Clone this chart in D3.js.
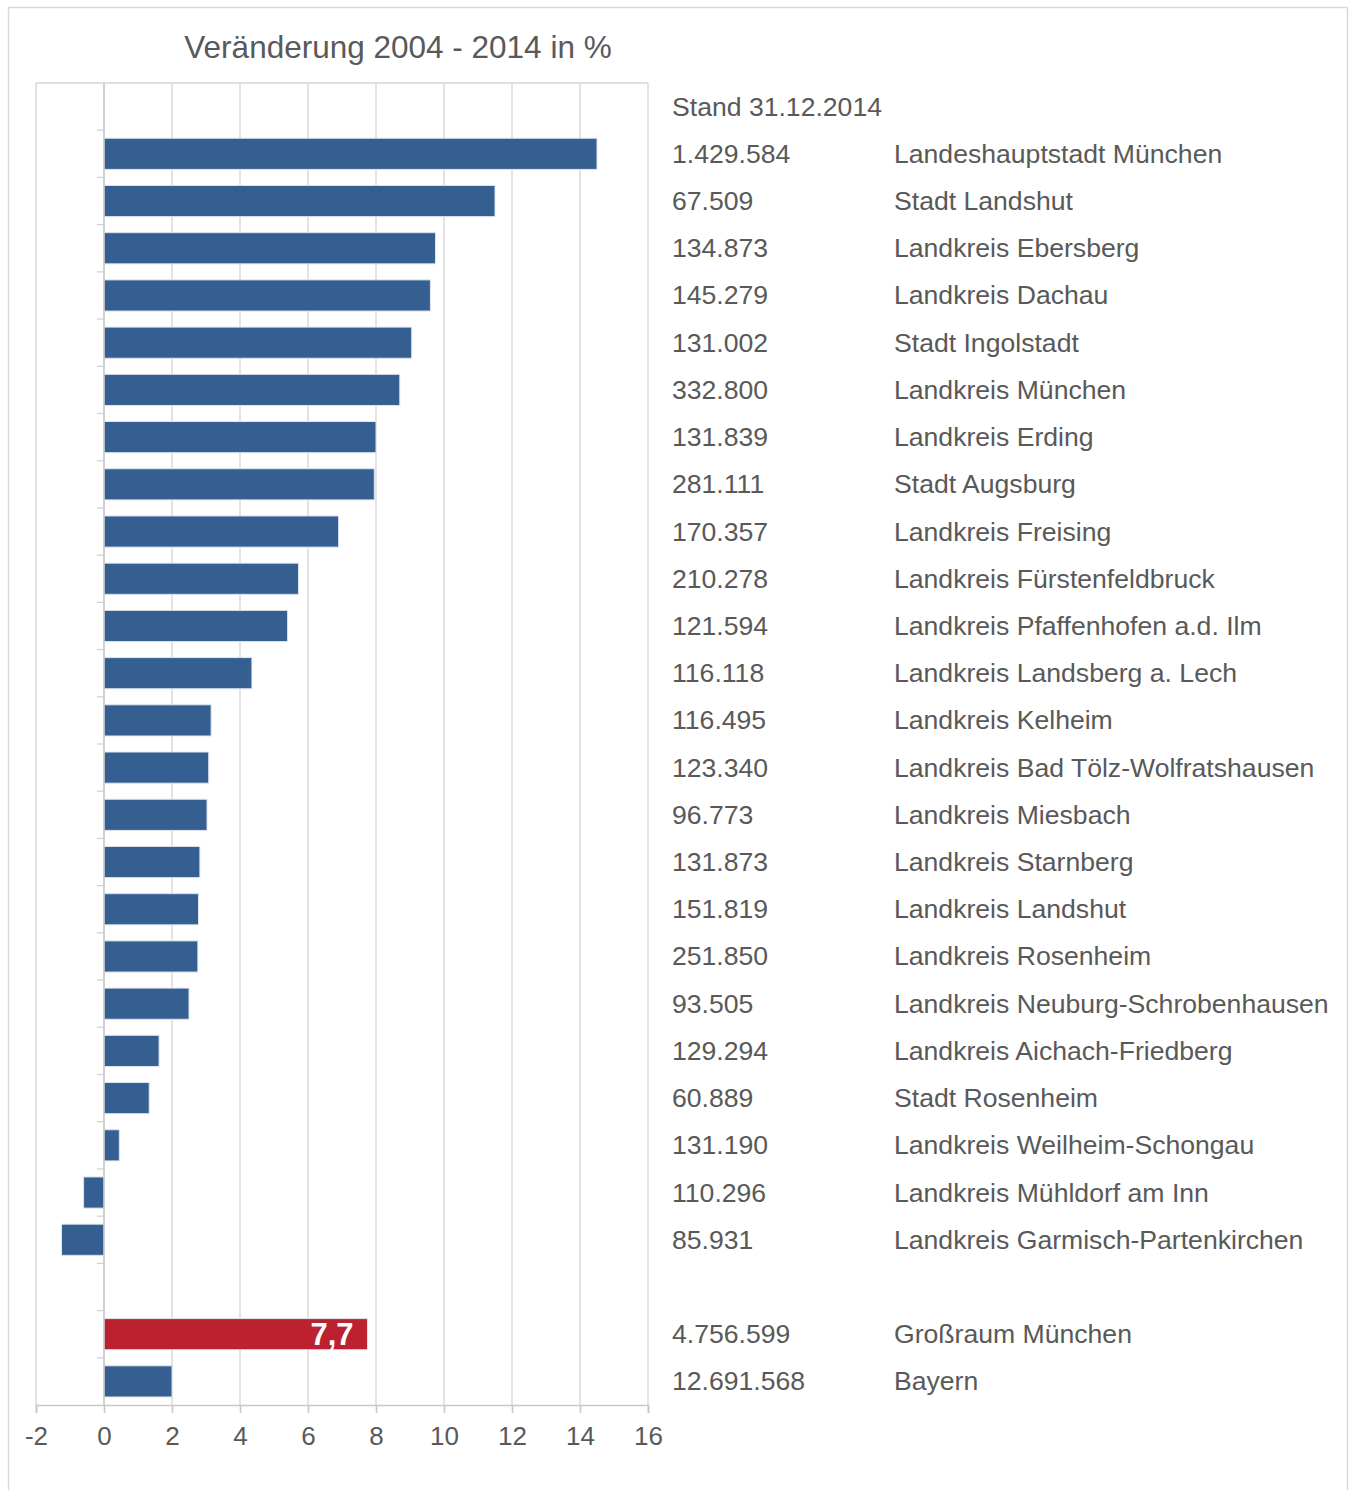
<!DOCTYPE html>
<html>
<head>
<meta charset="utf-8">
<script src="https://cdn.jsdelivr.net/npm/d3@7"></script>
<style>
    body { margin: 0; background: #fff; }
    svg text { font-family: "Liberation Sans", Arial, sans-serif; }
</style>
</head>
<body>
<svg id="chart"></svg>
<script>
// Regions, population on 31.12.2014 and change 2004 - 2014 in %
const regions = [
    "Landeshauptstadt München", "Stadt Landshut", "Landkreis Ebersberg", "Landkreis Dachau",
    "Stadt Ingolstadt", "Landkreis München", "Landkreis Erding", "Stadt Augsburg",
    "Landkreis Freising", "Landkreis Fürstenfeldbruck", "Landkreis Pfaffenhofen a.d. Ilm",
    "Landkreis Landsberg a. Lech", "Landkreis Kelheim", "Landkreis Bad Tölz-Wolfratshausen",
    "Landkreis Miesbach", "Landkreis Starnberg", "Landkreis Landshut", "Landkreis Rosenheim",
    "Landkreis Neuburg-Schrobenhausen", "Landkreis Aichach-Friedberg", "Stadt Rosenheim",
    "Landkreis Weilheim-Schongau", "Landkreis Mühldorf am Inn", "Landkreis Garmisch-Partenkirchen"
];
const population = [
    "1.429.584", "67.509", "134.873", "145.279", "131.002", "332.800", "131.839", "281.111",
    "170.357", "210.278", "121.594", "116.118", "116.495", "123.340", "96.773", "131.873",
    "151.819", "251.850", "93.505", "129.294", "60.889", "131.190", "110.296", "85.931"
];
const change = [
    14.5, 11.5, 9.75, 9.6, 9.05, 8.7, 8.0, 7.95, 6.9, 5.72, 5.4, 4.35,
    3.15, 3.08, 3.03, 2.82, 2.78, 2.76, 2.5, 1.62, 1.33, 0.45, -0.6, -1.25
];
const totals = ["Großraum München", "Bayern"];
const totalPopulation = ["4.756.599", "12.691.568"];
const totalChange = [7.75, 2.0];
const totalLabel = ["7,7", null];
const xTicks = [-2, 0, 2, 4, 6, 8, 10, 12, 14, 16];

const options = {
    width: 1351, height: 1490,
    plot: {left: 36, right: 648, top: 83, bottom: 1405},
    blue: "#365f91", red: "#bc2130",
    grid: "#d4d4d4", text: "#595959",
    fontSize: 26.6
};

const rows = [{key: "_head"}]
    .concat(regions.map(function (d, i) {
        return {key: d, name: d, pop: population[i], value: change[i], color: options.blue};
    }))
    .concat([{key: "_gap"}])
    .concat(totals.map(function (d, i) {
        return {key: d, name: d, pop: totalPopulation[i], value: totalChange[i],
            color: i === 0 ? options.red : options.blue, label: totalLabel[i]};
    }));

const svg = d3.select("#chart")
    .attr("width", options.width)
    .attr("height", options.height);

// outer frame
svg.append("rect")
    .attr("x", 8.5).attr("y", 7.5)
    .attr("width", 1339).attr("height", 1500)
    .attr("fill", "none").attr("stroke", "#d9d9d9").attr("stroke-width", 1.5);

const x = d3.scaleLinear().domain([-2, 16]).range([options.plot.left, options.plot.right]);
const y = d3.scaleBand()
    .domain(rows.map(function (d) { return d.key; }))
    .range([options.plot.top, options.plot.bottom])
    .paddingInner(0.34)
    .paddingOuter(0.17);
const step = y.step();

// title
svg.append("text")
    .attr("x", 398).attr("y", 58)
    .style("text-anchor", "middle")
    .style("font-size", "31.5px")
    .style("fill", options.text)
    .text("Veränderung 2004 - 2014 in %");

// gridlines
svg.append("g")
    .selectAll("line")
    .data(xTicks)
    .enter()
    .append("line")
    .attr("x1", function (d) { return x(d); })
    .attr("x2", function (d) { return x(d); })
    .attr("y1", options.plot.top)
    .attr("y2", options.plot.bottom)
    .attr("stroke", options.grid)
    .attr("stroke-width", 1.3);

// plot frame top
svg.append("line")
    .attr("x1", options.plot.left).attr("x2", options.plot.right)
    .attr("y1", options.plot.top).attr("y2", options.plot.top)
    .attr("stroke", options.grid).attr("stroke-width", 1.3);

// category ticks at band boundaries
svg.append("g")
    .selectAll("line")
    .data(rows.slice(1))
    .enter()
    .append("line")
    .attr("x1", x(0) - 7)
    .attr("x2", x(0))
    .attr("y1", function (d) { return y(d.key) - step * y.paddingInner() / 2; })
    .attr("y2", function (d) { return y(d.key) - step * y.paddingInner() / 2; })
    .attr("stroke", options.grid)
    .attr("stroke-width", 1.3);

// bars
const bars = rows.filter(function (d) { return d.name; });
svg.append("g")
    .selectAll("rect")
    .data(bars)
    .enter()
    .append("rect")
    .attr("x", function (d) { return x(Math.min(0, d.value)); })
    .attr("y", function (d) { return y(d.key); })
    .attr("width", function (d) { return Math.abs(x(d.value) - x(0)); })
    .attr("height", y.bandwidth())
    .attr("fill", function (d) { return d.color; })
    .attr("stroke", "#dde4ee")
    .attr("stroke-width", 1);

// value label on Großraum bar
svg.append("g")
    .selectAll("text")
    .data(bars.filter(function (d) { return d.label; }))
    .enter()
    .append("text")
    .attr("x", function (d) { return x(d.value) - 14; })
    .attr("y", function (d) { return y(d.key) + y.bandwidth() / 2 + 11; })
    .style("text-anchor", "end")
    .style("font-size", "31px")
    .style("font-weight", "bold")
    .style("fill", "#fff")
    .text(function (d) { return d.label; });

// zero line
svg.append("line")
    .attr("x1", x(0)).attr("x2", x(0))
    .attr("y1", options.plot.top).attr("y2", options.plot.bottom)
    .attr("stroke", "#c8c8c8").attr("stroke-width", 1.3);

// bottom axis
const xAxis = svg.append("g")
    .attr("transform", `translate(0, ${options.plot.bottom})`)
    .call(d3.axisBottom(x).tickValues(xTicks).tickSize(8).tickPadding(14)
        .tickFormat(function (d) { return d; }));
xAxis.selectAll("path, line").attr("stroke", "#c8c8c8").attr("stroke-width", 1.6);
xAxis.selectAll("text")
    .style("font-size", "26px")
    .style("fill", options.text)
    .style("font-family", "'Liberation Sans', Arial, sans-serif");

// right hand table
svg.append("text")
    .attr("x", 672)
    .attr("y", y("_head") + y.bandwidth() / 2 + 9)
    .style("font-size", options.fontSize + "px")
    .style("fill", options.text)
    .text("Stand 31.12.2014");

const table = svg.append("g")
    .selectAll("g")
    .data(bars)
    .enter()
    .append("g")
    .attr("transform", function (d) { return `translate(0, ${y(d.key) + y.bandwidth() / 2 + 9})`; });

table.append("text")
    .attr("x", 672)
    .style("font-size", options.fontSize + "px")
    .style("fill", options.text)
    .text(function (d) { return d.pop; });

table.append("text")
    .attr("x", 894)
    .style("font-size", options.fontSize + "px")
    .style("fill", options.text)
    .text(function (d) { return d.name; });
</script>
</body>
</html>
